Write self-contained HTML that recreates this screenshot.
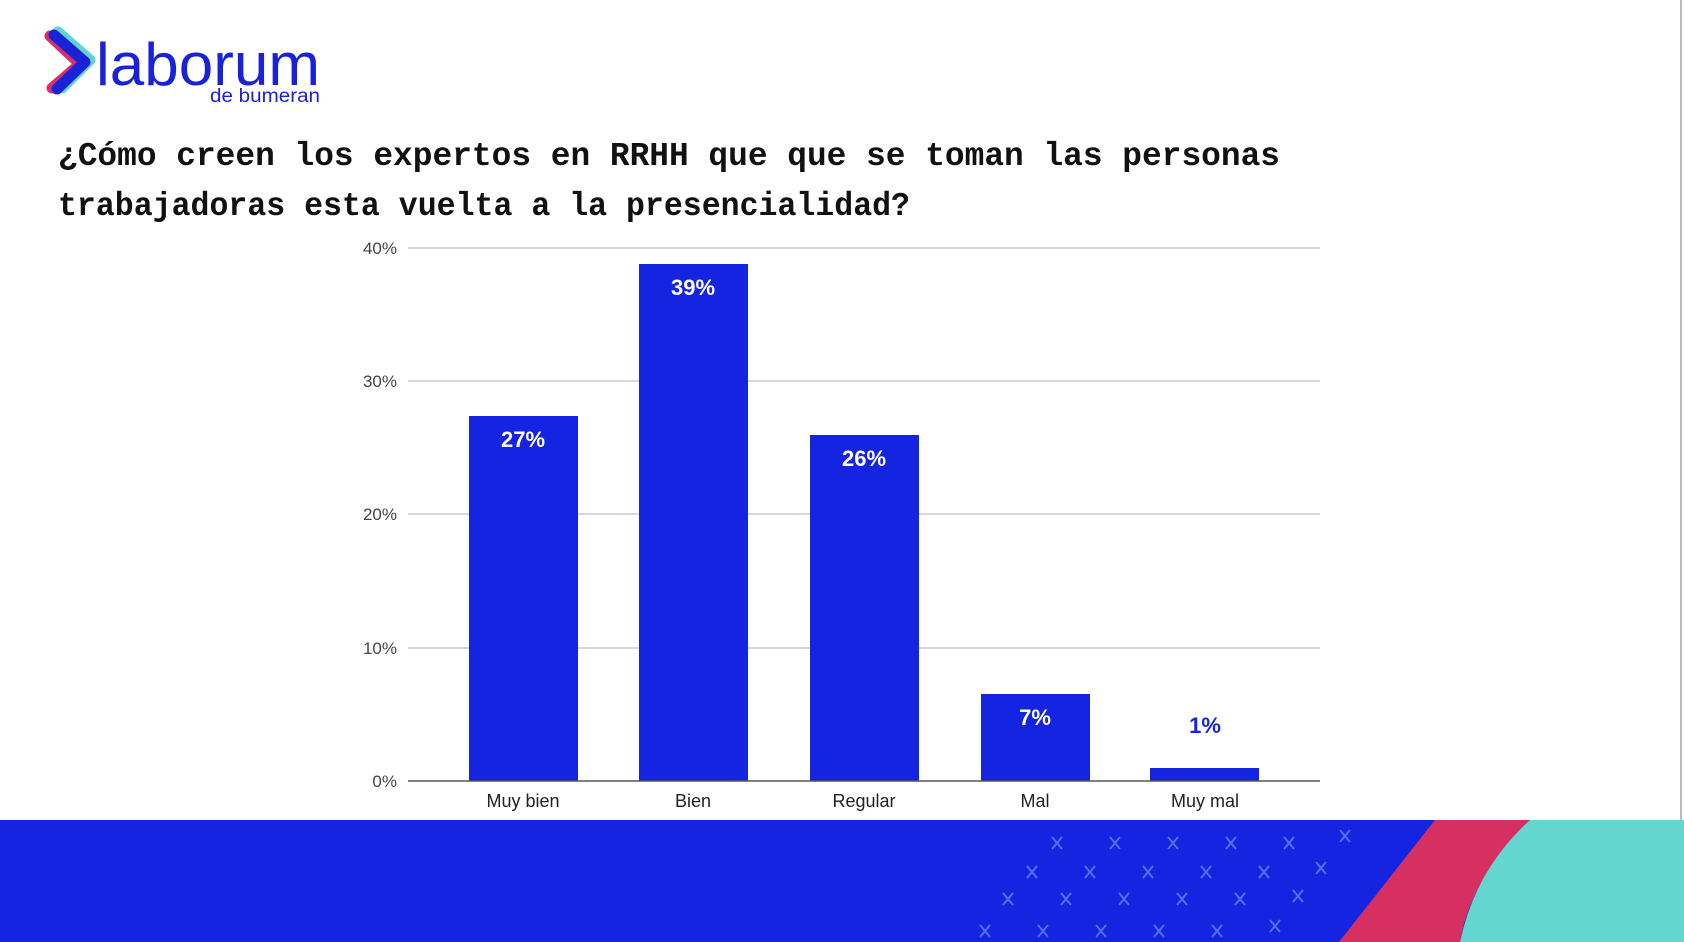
<!DOCTYPE html>
<html><head><meta charset="utf-8"><style>
html,body{margin:0;padding:0;background:#fff;}
svg{display:block}
</style></head><body>
<svg width="1684" height="942" viewBox="0 0 1684 942" xmlns="http://www.w3.org/2000/svg" font-family="Liberation Sans, Arial, sans-serif">
<rect width="1684" height="942" fill="#fff"/>
<line x1="1681" y1="0" x2="1681" y2="835" stroke="#bbb" stroke-width="2"/>
<!-- logo -->
<path d="M50 36 L80 64 L52 88" fill="none" stroke="#d6306a" stroke-width="11" stroke-linecap="round" stroke-linejoin="round"/>
<path d="M58 32 L90 60 L62 88" fill="none" stroke="#5fd5cf" stroke-width="11" stroke-linecap="round" stroke-linejoin="round"/>
<path d="M54 35 L85 62 L57 89" fill="none" stroke="#1a22d8" stroke-width="11" stroke-linecap="round" stroke-linejoin="round"/>
<text x="96" y="85" font-size="60" fill="#1a22d8" textLength="224" lengthAdjust="spacingAndGlyphs">laborum</text>
<text x="210" y="102" font-size="19" fill="#1a22d8" textLength="110" lengthAdjust="spacingAndGlyphs">de bumeran</text>
<!-- title -->
<g font-family="Liberation Mono, monospace" font-weight="bold" font-size="33" fill="#111">
<text x="58" y="165" textLength="1222" lengthAdjust="spacingAndGlyphs">¿Cómo creen los expertos en RRHH que que se toman las personas</text>
<text x="58" y="215" textLength="852" lengthAdjust="spacingAndGlyphs">trabajadoras esta vuelta a la presencialidad?</text>
</g>
<!-- grid -->
<g stroke="#ccc" stroke-width="1.5">
<line x1="408" y1="248" x2="1320" y2="248"/>
<line x1="408" y1="381" x2="1320" y2="381"/>
<line x1="408" y1="514" x2="1320" y2="514"/>
<line x1="408" y1="648" x2="1320" y2="648"/>
</g>
<g font-size="17" fill="#444" text-anchor="end">
<text x="397" y="254">40%</text>
<text x="397" y="387">30%</text>
<text x="397" y="520">20%</text>
<text x="397" y="654">10%</text>
<text x="397" y="787">0%</text>
</g>
<g fill="#1424e0">
<rect x="469" y="416" width="109" height="365"/>
<rect x="639" y="264" width="109" height="517"/>
<rect x="810" y="435" width="109" height="346"/>
<rect x="981" y="694" width="109" height="87"/>
<rect x="1150" y="768" width="109" height="13"/>
</g>
<line x1="408" y1="781" x2="1320" y2="781" stroke="#555" stroke-width="1.5"/>
<g font-size="22" font-weight="bold" fill="#fff" text-anchor="middle">
<text x="523" y="447">27%</text>
<text x="693" y="295">39%</text>
<text x="864" y="466">26%</text>
<text x="1035" y="725">7%</text>
<text x="1205" y="733" fill="#1424e0">1%</text>
</g>
<g font-size="18" fill="#222" text-anchor="middle">
<text x="523" y="807">Muy bien</text>
<text x="693" y="807">Bien</text>
<text x="864" y="807">Regular</text>
<text x="1035" y="807">Mal</text>
<text x="1205" y="807">Muy mal</text>
</g>
<!-- bottom band -->
<rect x="0" y="820" width="1684" height="122" fill="#1424e0"/>
<path d="M1435 820 L1530 820 Q1470 880 1460 942 L1339 942 Z" fill="#d63062"/>
<path d="M1530 820 L1684 820 L1684 942 L1460 942 Q1475 870 1530 820 Z" fill="#62d6cf"/>
<g stroke="#5a6cf0" stroke-width="2">
<path d="M1052 837l10 12m0-12l-10 12M1110 837l10 12m0-12l-10 12M1168 837l10 12m0-12l-10 12M1226 837l10 12m0-12l-10 12M1284 837l10 12m0-12l-10 12M1340 830l10 12m0-12l-10 12
M1027 866l10 12m0-12l-10 12M1085 866l10 12m0-12l-10 12M1143 866l10 12m0-12l-10 12M1201 866l10 12m0-12l-10 12M1259 866l10 12m0-12l-10 12M1316 862l10 12m0-12l-10 12
M1003 893l10 12m0-12l-10 12M1061 893l10 12m0-12l-10 12M1119 893l10 12m0-12l-10 12M1177 893l10 12m0-12l-10 12M1235 893l10 12m0-12l-10 12M1293 890l10 12m0-12l-10 12
M980 925l10 12m0-12l-10 12M1038 925l10 12m0-12l-10 12M1096 925l10 12m0-12l-10 12M1154 925l10 12m0-12l-10 12M1212 925l10 12m0-12l-10 12M1270 920l10 12m0-12l-10 12"/>
</g>
</svg>
</body></html>
